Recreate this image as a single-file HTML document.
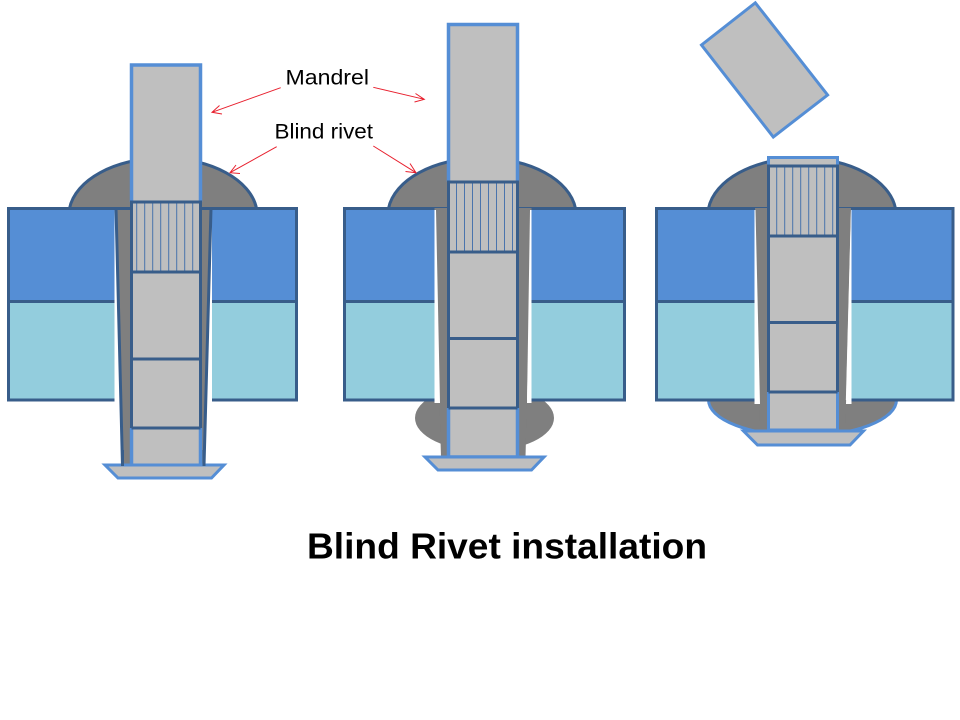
<!DOCTYPE html>
<html><head><meta charset="utf-8"><style>html,body{margin:0;padding:0;background:#fff}svg{display:block}</style></head>
<body>
<svg width="960" height="720" viewBox="0 0 960 720" xmlns="http://www.w3.org/2000/svg">
<defs>
<clipPath id="c2"><rect x="0" y="400" width="960" height="100"/></clipPath>
</defs>
<rect width="960" height="720" fill="#fff"/>

<!-- Panel 1 -->
<g>
<path d="M69.5 208.5 C75 180 115 158 163 158 C211 158 251 180 256.500 208.5 Z" fill="#7f7f7f" stroke="#385d8a" stroke-width="3"/>
<rect x="8.500" y="208.500" width="106" height="93" fill="#558ed5"/>
<rect x="8.500" y="301.500" width="106" height="98.500" fill="#93cddd"/>
<path d="M114.500 208.500H8.500V400H114.500M8.500 301.500H114.500" fill="none" stroke="#385d8a" stroke-width="3"/>
<rect x="212" y="208.500" width="84.500" height="93" fill="#558ed5"/>
<rect x="212" y="301.500" width="84.500" height="98.500" fill="#93cddd"/>
<path d="M212 208.500H296.500V400H212M212 301.500H296.500" fill="none" stroke="#385d8a" stroke-width="3"/>
<polygon points="116,208.500 211,208.500 204,466 122.500,466" fill="#7f7f7f" stroke="#385d8a" stroke-width="3"/>
<rect x="131.500" y="65" width="69" height="401" fill="#bfbfbf"/>
<path d="M131.500 202V65H200.500V202M131.500 428V466H200.500V428" fill="none" stroke="#558ed5" stroke-width="3.500"/>
<path d="M136.700 202V272M144.700 202V272M152.700 202V272M160.700 202V272M168.700 202V272M176.700 202V272M184.700 202V272M192.700 202V272" stroke="#4a74ad" stroke-width="1" fill="none"/>
<path d="M131.500 428V202H200.500V428M131.500 272H200.500M131.500 359H200.500M131.500 428H200.500" fill="none" stroke="#385d8a" stroke-width="3"/>
<polygon points="105,465 224,465 211.500,478 118,478" fill="#bfbfbf" stroke="#558ed5" stroke-width="3"/>
<path d="M122.500 450V466M204 450V466" stroke="#385d8a" stroke-width="3"/>
</g>

<!-- Panel 2 -->
<g>
<path d="M388.500 208.500 C394 180 434 158 482 158 C530 158 570 180 575.500 208.500 Z" fill="#7f7f7f" stroke="#385d8a" stroke-width="3"/>
<ellipse cx="484.500" cy="418" rx="69.500" ry="33" fill="#7f7f7f" clip-path="url(#c2)"/>
<polygon points="433.500,208 532,208 525.500,457 441,457" fill="#7f7f7f"/>
<rect x="344.500" y="208.500" width="90" height="93" fill="#558ed5"/>
<rect x="344.500" y="301.500" width="90" height="98.500" fill="#93cddd"/>
<path d="M434.500 208.500H344.500V400H434.500M344.500 301.500H434.500" fill="none" stroke="#385d8a" stroke-width="3"/>
<rect x="531.500" y="208.500" width="93" height="93" fill="#558ed5"/>
<rect x="531.500" y="301.500" width="93" height="98.500" fill="#93cddd"/>
<path d="M531.500 208.500H624.500V400H531.500M531.500 301.500H624.500" fill="none" stroke="#385d8a" stroke-width="3"/>
<polygon points="434.500,210 436,210 440,403 434.500,403" fill="#fff"/>
<polygon points="531.500,210 531.500,403 527,403 530,210" fill="#fff"/>
<rect x="448.500" y="24.500" width="69" height="432" fill="#bfbfbf"/>
<path d="M448.500 182V24.500H517.500V182M448.500 408V457H517.500V408" fill="none" stroke="#558ed5" stroke-width="3.500"/>
<path d="M456.500 182V252M464.500 182V252M472.500 182V252M480.500 182V252M488.500 182V252M496.500 182V252M504.500 182V252M512.500 182V252" stroke="#4a74ad" stroke-width="1" fill="none"/>
<path d="M448.500 408V182H517.500V408M448.500 252H517.500M448.500 338.500H517.500M448.500 408H517.500" fill="none" stroke="#385d8a" stroke-width="3"/>
<polygon points="425,457 544,457 531.500,470 438,470" fill="#bfbfbf" stroke="#558ed5" stroke-width="3"/>
</g>

<!-- Panel 3 -->
<g>
<polygon points="755.300,2.800 827.600,95 773.300,137 701.500,45" fill="#bfbfbf" stroke="#558ed5" stroke-width="3"/>
<path d="M708.500 208.500 C714 180 754 158 802 158 C850 158 890 180 895.500 208.500 Z" fill="#7f7f7f" stroke="#385d8a" stroke-width="3"/>
<path d="M708.500 400 A94 36 0 0 0 896.500 400 Z" fill="#7f7f7f"/>
<path d="M708.500 400 A94 36 0 0 0 896.500 400" fill="none" stroke="#558ed5" stroke-width="3"/>
<polygon points="755,208 851,208 845,432 760,432" fill="#7f7f7f"/>
<rect x="656.500" y="208.500" width="98" height="93" fill="#558ed5"/>
<rect x="656.500" y="301.500" width="98" height="98.500" fill="#93cddd"/>
<path d="M754.500 208.500H656.500V400H754.500M656.500 301.500H754.500" fill="none" stroke="#385d8a" stroke-width="3"/>
<rect x="851.500" y="208.500" width="101.500" height="93" fill="#558ed5"/>
<rect x="851.500" y="301.500" width="101.500" height="98.500" fill="#93cddd"/>
<path d="M851.500 208.500H953V400H851.500M851.500 301.500H953" fill="none" stroke="#385d8a" stroke-width="3"/>
<polygon points="754.500,210 755.500,210 760,404 754.500,404" fill="#fff"/>
<polygon points="851.500,210 851.500,404 846,404 851,210" fill="#fff"/>
<rect x="768.500" y="157.500" width="69" height="272" fill="#bfbfbf"/>
<path d="M768.500 166V157.500H837.500V166M768.500 392V430H837.500V392" fill="none" stroke="#558ed5" stroke-width="3"/>
<path d="M776.700 166V236M784.700 166V236M792.700 166V236M800.700 166V236M808.700 166V236M816.700 166V236M824.700 166V236M832.700 166V236" stroke="#4a74ad" stroke-width="1" fill="none"/>
<path d="M768.500 392V166H837.500V392M768.500 236H837.500M768.500 322.500H837.500M768.500 392H837.500" fill="none" stroke="#385d8a" stroke-width="3"/>
<polygon points="743.500,431 863.500,431 850,445 757.500,445" fill="#bfbfbf" stroke="#558ed5" stroke-width="3"/>
</g>

<!-- Arrows -->
<g fill="none" stroke="#e8202e" stroke-width="1">
<path d="M280.700 87.700L212 112.300M219.500 105.500L212 112.300L222 114"/>
<path d="M276.700 146.700L230 172.700M236 165L230 172.700L240 173.500"/>
<path d="M373.300 87.300L424.300 99.300M415.500 93.500L424.300 99.300L414.500 102"/>
<path d="M373.300 146L416 172.700M410 163.500L416 172.700L405.500 171.500"/>
</g>

<!-- Labels -->
<g fill="#000" font-family="'Liberation Sans', sans-serif">
<text x="285.500" y="84.300" font-size="21" textLength="83.500" lengthAdjust="spacingAndGlyphs">Mandrel</text>
<text x="274.500" y="138.300" font-size="21" textLength="98.500" lengthAdjust="spacingAndGlyphs">Blind rivet</text>
<text x="307" y="558.300" font-size="36" font-weight="bold" textLength="400" lengthAdjust="spacingAndGlyphs">Blind Rivet installation</text>
</g>
</svg>
</body></html>
